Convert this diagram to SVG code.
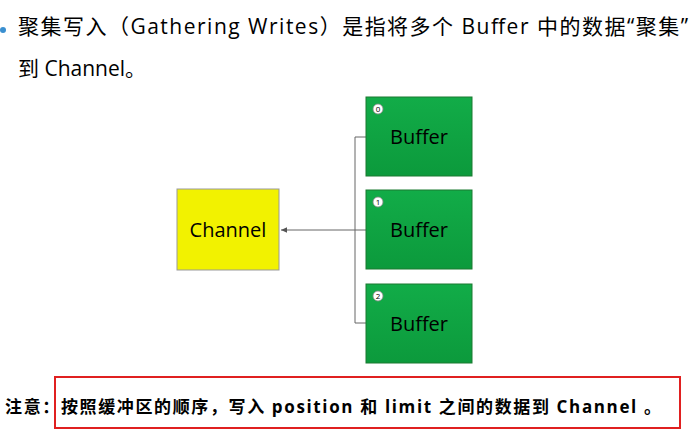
<svg xmlns="http://www.w3.org/2000/svg" width="699" height="448" viewBox="0 0 699 448">
<style>
text{font-family:"Open Sans","Noto Sans CJK SC",sans-serif;fill:#000}
.buf rect{stroke:#1a7a30;stroke-width:1}
.lbl{font-size:20px;text-anchor:middle}
.num{font-size:8px;text-anchor:middle}
.c{fill:#fff;stroke:#888;stroke-width:0.8}
</style>
<defs>
<marker id="ar" viewBox="0 0 10 10" refX="9" refY="5" markerWidth="7" markerHeight="7" orient="auto"><path d="M0,1 L9,5 L0,9z" fill="#555"/></marker>
<linearGradient id="g" x1="0" y1="0" x2="0" y2="1"><stop offset="0" stop-color="#12ac48"/><stop offset="1" stop-color="#0c9a3c"/></linearGradient>
</defs>
<rect width="699" height="448" fill="#fff"/>
<circle cx="3" cy="30" r="3" fill="#3a8fd0"/>
<text x="18" y="34" font-size="21" textLength="670" lengthAdjust="spacing">聚集写入（Gathering Writes）是指将多个 Buffer 中的数据“聚集”</text>
<text x="18" y="76" font-size="21">到 Channel。</text>
<g id="connectors" fill="none" stroke="#666" stroke-width="1">
<path d="M366,137 H355 V323 H366"/>
<path d="M366,230 H281" marker-end="url(#ar)"/>
</g>
<g id="channel"><rect x="177" y="189" width="102" height="81" fill="#f2f200" stroke="#999" stroke-width="1"/><text class="lbl" x="228" y="237">Channel</text></g>
<g id="buffer0" class="buf"><rect x="366" y="97" width="106" height="79" fill="url(#g)"/><circle class="c" cx="378" cy="109" r="5"/><text class="num" x="378" y="112">0</text><text class="lbl" x="419" y="144">Buffer</text></g>
<g id="buffer1" class="buf"><rect x="366" y="190" width="106" height="79" fill="url(#g)"/><circle class="c" cx="378" cy="202" r="5"/><text class="num" x="378" y="205">1</text><text class="lbl" x="419" y="237">Buffer</text></g>
<g id="buffer2" class="buf"><rect x="366" y="284" width="106" height="79" fill="url(#g)"/><circle class="c" cx="378" cy="296" r="5"/><text class="num" x="378" y="299">2</text><text class="lbl" x="419" y="331">Buffer</text></g>
<text x="5" y="413" font-size="17" font-weight="bold" textLength="656" lengthAdjust="spacing">注意：按照缓冲区的顺序，写入 position 和 limit 之间的数据到 Channel 。</text>
<rect x="55" y="377" width="625" height="51" fill="none" stroke="#e02020" stroke-width="2"/>
</svg>
